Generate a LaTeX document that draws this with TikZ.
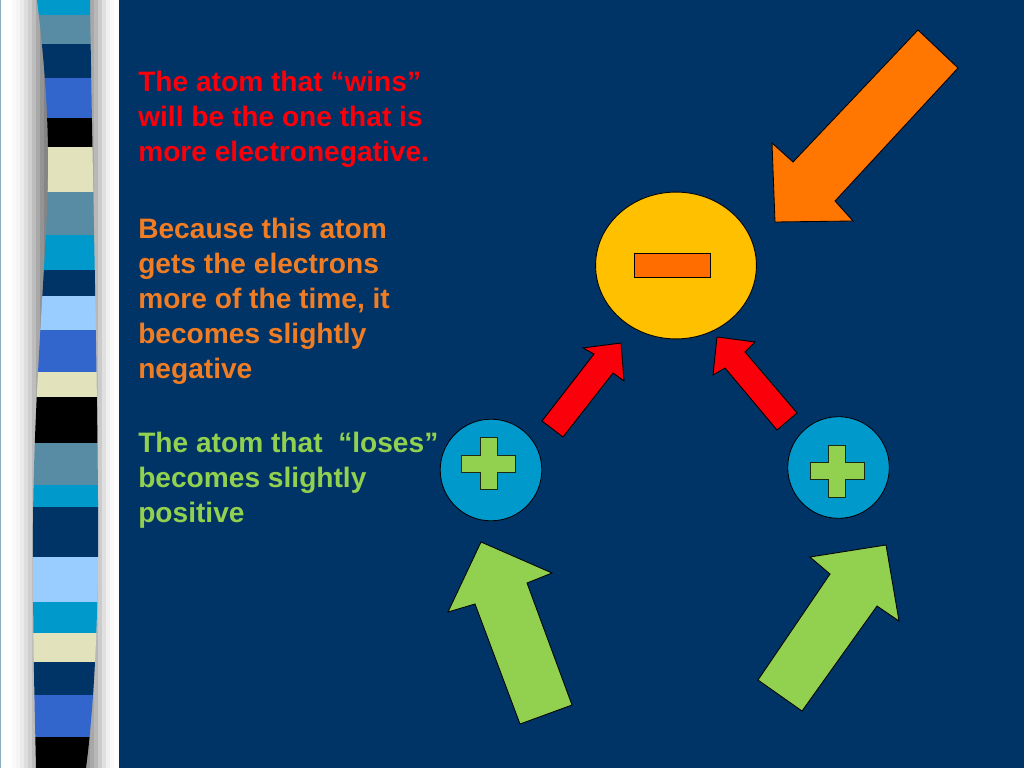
\documentclass[tikz,border=0pt]{standalone}
\usepackage{fontspec}
\setmainfont{Liberation Sans}
\usetikzlibrary{shapes.geometric}
\tikzset{>=stealth}
\definecolor{slideBlue}{RGB}{0,51,102}
\definecolor{stripeCyan}{RGB}{0,153,204}
\definecolor{stripeSteel}{RGB}{88,140,165}
\definecolor{stripeRoyal}{RGB}{51,102,204}
\definecolor{stripeCream}{RGB}{226,226,188}
\definecolor{stripeSky}{RGB}{153,204,255}
\definecolor{penRed}{RGB}{250,0,10}
\definecolor{penOrange}{RGB}{240,125,35}
\definecolor{penGreen}{RGB}{146,208,80}
\definecolor{arrowOrange}{RGB}{255,118,0}
\definecolor{atomYellow}{RGB}{255,192,0}
\definecolor{minusOrange}{RGB}{255,108,0}
\tikzset{
  slidetext/.style={anchor=north west,align=left,inner sep=0pt,font=\fontsize{20}{24.9}\selectfont\bfseries},
  outline/.style={draw=black,line width=0.6pt},
  posatom/.style={circle,outline,fill=stripeCyan,inner sep=0pt,minimum size=2.54cm},
}
\newcommand{\plusmark}[1]{%
  \draw[outline,draw=black!80!penGreen,fill=penGreen,shift={(#1)}] (-8.5,-26) -- (8.5,-26) -- (8.5,-8.5) -- (27,-8.5) -- (27,8.5) -- (8.5,8.5) -- (8.5,26) -- (-8.5,26) -- (-8.5,8.5) -- (-27,8.5) -- (-27,-8.5) -- (-8.5,-8.5) -- cycle;}

\begin{document}
\begin{tikzpicture}[x=0.025cm,y=-0.025cm]
\useasboundingbox (0,0) rectangle (1024,768);
\fill[white] (0,0) rectangle (119,768);
\fill[slideBlue] (119,0) rectangle (1024,768);
\draw[stripeSteel!70,line width=0.8pt] (0.5,0) -- (0.5,768);
% shadow round the striped column
\foreach \xa/\g in {12/2,16/4,20/8,24/13,28/19,32/26,36/34,40/42,44/48,48/50}
  \fill[black!\g] (\xa,0) rectangle (\xa+4.3,768);
\foreach \xa/\g in {86/40,90/34,94/28,98/20,102/12,106/6,110/2}
  \fill[black!\g] (\xa,0) rectangle (\xa+4.3,768);
\begin{scope}
\clip (37,0) .. controls (47,80) and (50,150) .. (47,210) .. controls (42,320) and (32,430) .. (33,560) .. controls (33,650) and (35,720) .. (36,768) -- (86,768) .. controls (95,700) and (99,600) .. (98,500) .. controls (97,350) and (92,150) .. (90,0) -- cycle;
\foreach \ya/\yb/\col in {0/15/stripeCyan,15/44/stripeSteel,44/78/slideBlue,78/118/stripeRoyal,118/147/black,147/192/stripeCream,192/235/stripeSteel,235/270/stripeCyan,270/296/slideBlue,296/330/stripeSky,330/372/stripeRoyal,372/397/stripeCream,397/443/black,443/485/stripeSteel,485/507/stripeCyan,507/557/slideBlue,557/602/stripeSky,602/633/stripeCyan,633/662/stripeCream,662/695/slideBlue,695/737/stripeRoyal,737/768/black}
  \fill[\col] (20,\ya) rectangle (110,\yb);
\end{scope}

\node[slidetext,text=penRed] (wins) at (138,71) {The atom that “wins”\\will be the one that is\\more electronegative.};
\node[slidetext,text=penOrange] (because) at (138,217.5) {Because this atom\\gets the electrons\\more of the time, it\\becomes slightly\\negative};
\node[slidetext,text=penGreen] (loses) at (138,431.5) {The atom that\ \ “loses”\\becomes slightly\\positive};

\node[ellipse,outline,fill=atomYellow,inner sep=0pt,minimum width=4.02cm,minimum height=3.67cm] (neg) at (676,265.5) {};
\node[rectangle,outline,fill=minusOrange,inner sep=0pt,minimum width=1.9cm,minimum height=0.62cm] (minus) at (672,265.5) {};
\node[posatom] (posL) at (491,470) {};
\node[posatom] (posR) at (838.5,467.5) {};
\plusmark{488.5,463.5}
\plusmark{837,471}

% block arrows
\draw[outline,fill=arrowOrange] (918,30) -- (958,68) -- (835,201) -- (853,221) -- (775,222) -- (772,143) -- (793,162) -- cycle;
\draw[outline,fill=penRed] (542,421) -- (594,354) -- (583,348) -- (621,343) -- (624,381) -- (613,373) -- (563,437) -- cycle;
\draw[outline,fill=penRed] (797,413) -- (745,352) -- (755,342) -- (717,337) -- (713,375) -- (725,368) -- (777,430) -- cycle;
\draw[outline,fill=penGreen] (481,542) -- (552,573) -- (527,583) -- (572,705) -- (520,724) -- (475,604) -- (448,612) -- cycle;
\draw[outline,fill=penGreen] (886,545) -- (899,621) -- (877,606) -- (802,711) -- (758,680) -- (830,574) -- (810,557) -- cycle;
\end{tikzpicture}
\end{document}
